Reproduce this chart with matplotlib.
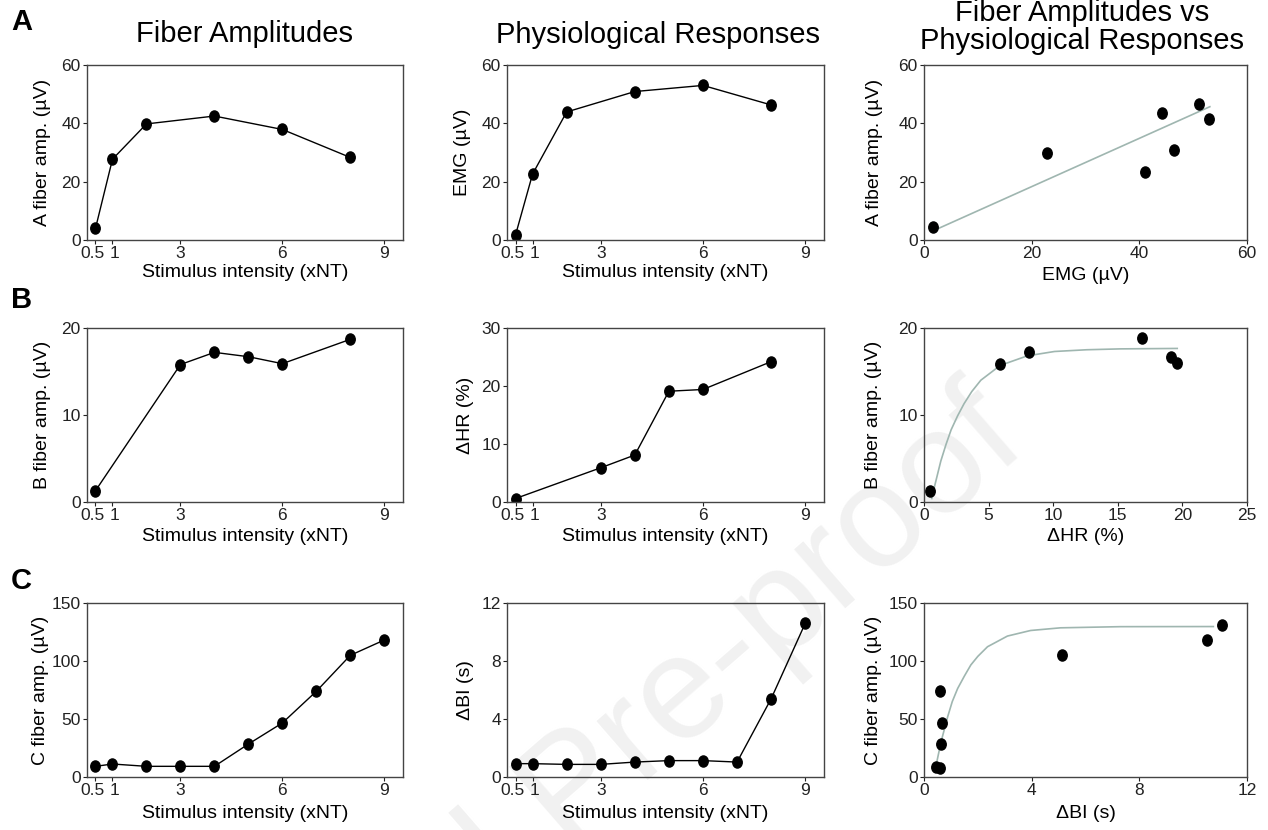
import numpy as np
import matplotlib
matplotlib.use("Agg")
import matplotlib.pyplot as plt
from matplotlib.path import Path
from matplotlib.transforms import Affine2D, ScaledTranslation

plt.rcParams['font.family'] = ['Liberation Sans', 'DejaVu Sans']

# ------------------------------------------------------------
# Data
# ------------------------------------------------------------
# Row A
stim_A = [0.5, 1, 2, 4, 6, 8]
a_amp = [4.0, 27.7, 39.8, 42.5, 37.9, 28.3]
emg = [1.7, 22.6, 43.9, 50.9, 53.0, 46.3]
emg_sc = [1.7, 22.9, 41.1, 44.2, 46.5, 51.0, 53.0]
a_sc = [4.4, 29.8, 23.2, 43.6, 31.0, 46.6, 41.5]
emg_fit = [1.4, 53.1]
a_fit = [2.9, 45.7]

# Row B
stim_B = [0.5, 3, 4, 5, 6, 8]
b_amp = [1.3, 15.8, 17.2, 16.7, 15.9, 18.7]
hr = [0.6, 5.9, 8.1, 19.1, 19.4, 24.2]
hr_sc = [0.5, 5.9, 8.1, 16.9, 19.15, 19.55]
b_sc = [1.3, 15.9, 17.2, 18.8, 16.7, 16.0]
hr_fit = [0.6, 0.8, 1.0, 1.3, 1.7, 2.1, 2.6, 3.1, 3.7, 4.4, 5.9, 8.0, 10.1, 12.6, 15.2, 19.6]
b_fit = [0.4, 1.7, 2.9, 4.7, 6.6, 8.3, 9.9, 11.3, 12.7, 14.0, 15.7, 16.8, 17.3, 17.5, 17.6, 17.65]

# Row C
stim_C = [0.5, 1, 2, 3, 4, 5, 6, 7, 8, 9]
c_amp = [9.2, 11.2, 9.2, 9.2, 9.2, 28.4, 46.6, 73.9, 104.9, 118.1]
bi = [0.92, 0.92, 0.87, 0.87, 1.03, 1.13, 1.13, 1.03, 5.4, 10.6]
bi_sc = [0.45, 0.58, 0.65, 0.67, 0.59, 5.14, 10.5, 11.08]
c_sc = [9.0, 7.5, 28.4, 46.3, 74.1, 105.2, 118.0, 130.8]
bi_fit = [0.44, 0.63, 0.88, 1.05, 1.25, 1.5, 1.74, 2.0, 2.36, 3.1, 3.96, 5.07, 7.3, 10.75]
c_fit = [9.0, 30.0, 52.0, 65.0, 76.3, 87.0, 96.6, 104.0, 112.3, 121.5, 126.3, 128.6, 129.6, 129.7]

stim_ticks = [0.5, 1, 3, 6, 9]
stim_labels = ['0.5', '1', '3', '6', '9']

# ------------------------------------------------------------
# Style
# ------------------------------------------------------------
W, H = 1268, 830
fig = plt.figure(figsize=(W / 100, H / 100), dpi=100)

# slightly tall ellipse marker
dot = Path.unit_circle().transformed(Affine2D().scale(0.85, 1.0))
fit_color = '#9fb6b0'


def px_axes(l, t, r, b):
    return fig.add_axes([l / W, 1 - b / H, (r - l) / W, (b - t) / H])


def style(ax, xlim, ylim, xticks, yticks, xlabel, ylabel, xl=-0.19, yl=-0.14, xticklabels=None):
    ax.set_facecolor('none')
    ax.set_xlim(xlim)
    ax.set_ylim(ylim)
    ax.set_xticks(xticks)
    if xticklabels is not None:
        ax.set_xticklabels(xticklabels)
    ax.set_yticks(yticks)
    ax.tick_params(direction='out', length=3, width=0.8, labelsize=12.5, pad=1.5,
                   colors='#222222')
    for s in ax.spines.values():
        s.set_color('#444444')
        s.set_linewidth(1.0)
    ax.set_xlabel(xlabel, fontsize=14)
    ax.set_ylabel(ylabel, fontsize=14)
    ax.xaxis.set_label_coords(0.5, xl)
    ax.yaxis.set_label_coords(yl, 0.5)
    ax.xaxis.label.set_va('center')
    ax.yaxis.label.set_va('center')
    if xticklabels is not None:
        # pull "0.5" and "1" apart a little so they don't touch
        ticks = ax.xaxis.get_major_ticks()
        for tk, dx in [(ticks[0], -2.6), (ticks[1], 2.2)]:
            lab = tk.label1
            lab.set_transform(lab.get_transform() + ScaledTranslation(dx / 100, 0, fig.dpi_scale_trans))


def line_dots(ax, x, y):
    ax.plot(x, y, '-', color='black', lw=1.0, marker=dot, ms=8, mfc='black', mec='black')


def scatter_fit(ax, x, y, fx, fy):
    ax.plot(fx, fy, '-', color=fit_color, lw=1.2)
    ax.plot(x, y, ls='none', marker=dot, ms=8, mfc='black', mec='black')


stim_xlabel = 'Stimulus intensity (xNT)'
xlim_stim = (0.25, 9.55)

# ------------------------------------------------------------
# Row A
# ------------------------------------------------------------
ax = px_axes(87, 65, 403, 240)
line_dots(ax, stim_A, a_amp)
style(ax, xlim_stim, (0, 60), stim_ticks, [0, 20, 40, 60], stim_xlabel,
      'A fiber amp. (µV)', xl=-0.185, yl=-0.142, xticklabels=stim_labels)

ax = px_axes(507, 65, 824, 240)
line_dots(ax, stim_A, emg)
style(ax, xlim_stim, (0, 60), stim_ticks, [0, 20, 40, 60], stim_xlabel,
      'EMG (µV)', xl=-0.185, yl=-0.139, xticklabels=stim_labels)

ax = px_axes(924, 65, 1247, 240)
scatter_fit(ax, emg_sc, a_sc, emg_fit, a_fit)
style(ax, (0, 60), (0, 60), [0, 20, 40, 60], [0, 20, 40, 60], 'EMG (µV)',
      'A fiber amp. (µV)', xl=-0.2, yl=-0.152)

# ------------------------------------------------------------
# Row B
# ------------------------------------------------------------
ax = px_axes(87, 328, 403, 502)
line_dots(ax, stim_B, b_amp)
style(ax, xlim_stim, (0, 20), stim_ticks, [0, 10, 20], stim_xlabel,
      'B fiber amp. (µV)', xl=-0.2, yl=-0.142, xticklabels=stim_labels)

ax = px_axes(507, 328, 824, 502)
line_dots(ax, stim_B, hr)
style(ax, xlim_stim, (0, 30), stim_ticks, [0, 10, 20, 30], stim_xlabel,
      'ΔHR (%)', xl=-0.2, yl=-0.132, xticklabels=stim_labels)

ax = px_axes(924, 328, 1247, 502)
scatter_fit(ax, hr_sc, b_sc, hr_fit, b_fit)
style(ax, (0, 25), (0, 20), [0, 5, 10, 15, 20, 25], [0, 10, 20], 'ΔHR (%)',
      'B fiber amp. (µV)', xl=-0.2, yl=-0.155)

# ------------------------------------------------------------
# Row C
# ------------------------------------------------------------
ax = px_axes(87, 603, 403, 777)
line_dots(ax, stim_C, c_amp)
style(ax, xlim_stim, (0, 150), stim_ticks, [0, 50, 100, 150], stim_xlabel,
      'C fiber amp. (µV)', xl=-0.21, yl=-0.148, xticklabels=stim_labels)

ax = px_axes(507, 603, 824, 777)
line_dots(ax, stim_C, bi)
style(ax, xlim_stim, (0, 12), stim_ticks, [0, 4, 8, 12], stim_xlabel,
      'ΔBI (s)', xl=-0.21, yl=-0.132, xticklabels=stim_labels)

ax = px_axes(924, 603, 1247, 777)
scatter_fit(ax, bi_sc, c_sc, bi_fit, c_fit)
style(ax, (0, 12), (0, 150), [0, 4, 8, 12], [0, 50, 100, 150], 'ΔBI (s)',
      'C fiber amp. (µV)', xl=-0.21, yl=-0.155)

# ------------------------------------------------------------
# Titles, panel letters, watermark
# ------------------------------------------------------------
fig.text(245 / W, 1 - 34 / H, 'Fiber Amplitudes', ha='center', va='center', fontsize=21)
fig.text(658 / W, 1 - 35 / H, 'Physiological Responses', ha='center', va='center', fontsize=21)
fig.text(1082 / W, 1 - 27 / H, 'Fiber Amplitudes vs\nPhysiological Responses',
         ha='center', va='center', fontsize=21, linespacing=1.0)

for letter, y in [('A', 22), ('B', 300), ('C', 581)]:
    fig.text(11 / W, 1 - y / H, letter, ha='left', va='center', fontsize=21, fontweight='bold')

fig.text(1030 / W, 1 - 448 / H, 'Journal Pre-proof', ha='right', va='baseline',
         rotation=41, rotation_mode='anchor', fontsize=106, color='#f1f1f1', zorder=-5)

fig.savefig('out.png', dpi=100)
